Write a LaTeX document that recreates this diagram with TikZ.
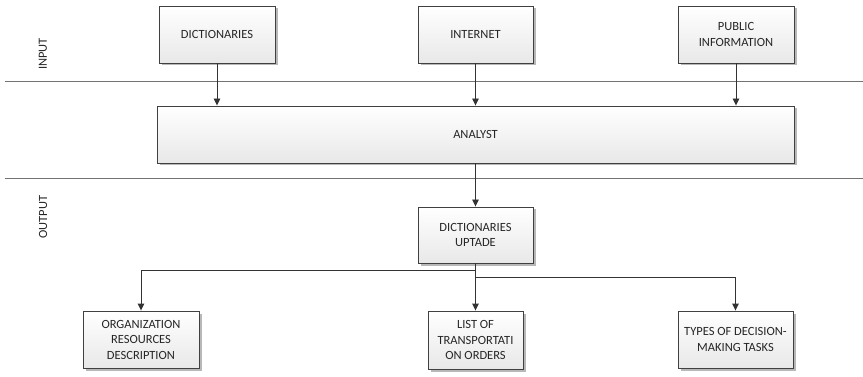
\documentclass[tikz,border=0pt]{standalone}
\usepackage{fontspec}
\setmainfont{Carlito}
\usetikzlibrary{arrows.meta,shadows}
\begin{document}
\begin{tikzpicture}[x=1pt,y=-1pt,
  txt/.style={font=\fontsize{12.5}{15.5}\selectfont, text=black!85},
  box/.style={txt, draw=black!75, line width=0.9pt, top color=white, bottom color=black!9,
    align=center, inner sep=0pt,
    drop shadow={shadow xshift=2.5pt,shadow yshift=-2.5pt,fill=black!28,opacity=1}},
  sep/.style={draw=black!55, line width=0.9pt},
  arr/.style={draw=black!80, line width=0.9pt, -{Triangle[length=7pt,width=6.5pt]}},
  link/.style={draw=black!80, line width=0.9pt}]
\useasboundingbox (0,0) rectangle (863,377);

% swimlane separators and lane titles
\draw[sep] (5,81) -- (863,81);
\draw[sep] (5,178) -- (863,178);
\node[txt, rotate=90] (inlab) at (43,54) {INPUT};
\node[txt, rotate=90] (outlab) at (43,217) {OUTPUT};

% input sources
\node[box, minimum width=116pt, minimum height=57pt] (dict) at (217,34.5) {DICTIONARIES};
\node[box, minimum width=115pt, minimum height=57pt] (inet) at (475.5,34.5) {INTERNET};
\node[box, minimum width=116pt, minimum height=57pt] (pub) at (736,34.5) {PUBLIC\\INFORMATION};

% processing
\node[box, minimum width=637pt, minimum height=57pt] (analyst) at (475.5,134.5) {ANALYST};

% outputs
\node[box, minimum width=115pt, minimum height=56pt] (upd) at (475.5,235) {DICTIONARIES\\UPTADE};
\node[box, minimum width=116pt, minimum height=57pt] (org) at (141,339.5) {ORGANIZATION\\RESOURCES\\DESCRIPTION};
\node[box, minimum width=95pt, minimum height=58pt] (list) at (475.5,340) {LIST OF\\TRANSPORTATI\\ON ORDERS};
\node[box, minimum width=115pt, minimum height=57pt] (types) at (735.5,339.5) {TYPES OF DECISION-\\MAKING TASKS};

% connectors
\draw[arr] (dict.south) -- (dict.south |- analyst.north);
\draw[arr] (inet.south) -- (inet.south |- analyst.north);
\draw[arr] (pub.south) -- (pub.south |- analyst.north);
\draw[arr] (analyst.south) -- (upd.north);

\coordinate (bl) at (475.5,270);
\coordinate (br) at (475.5,277);
\draw[link] (upd.south) -- (br);
\draw[arr] (bl) -| (org.north);
\draw[arr] (br) -| (types.north);
\draw[arr] (upd.south) -- (list.north);
\end{tikzpicture}
\end{document}
